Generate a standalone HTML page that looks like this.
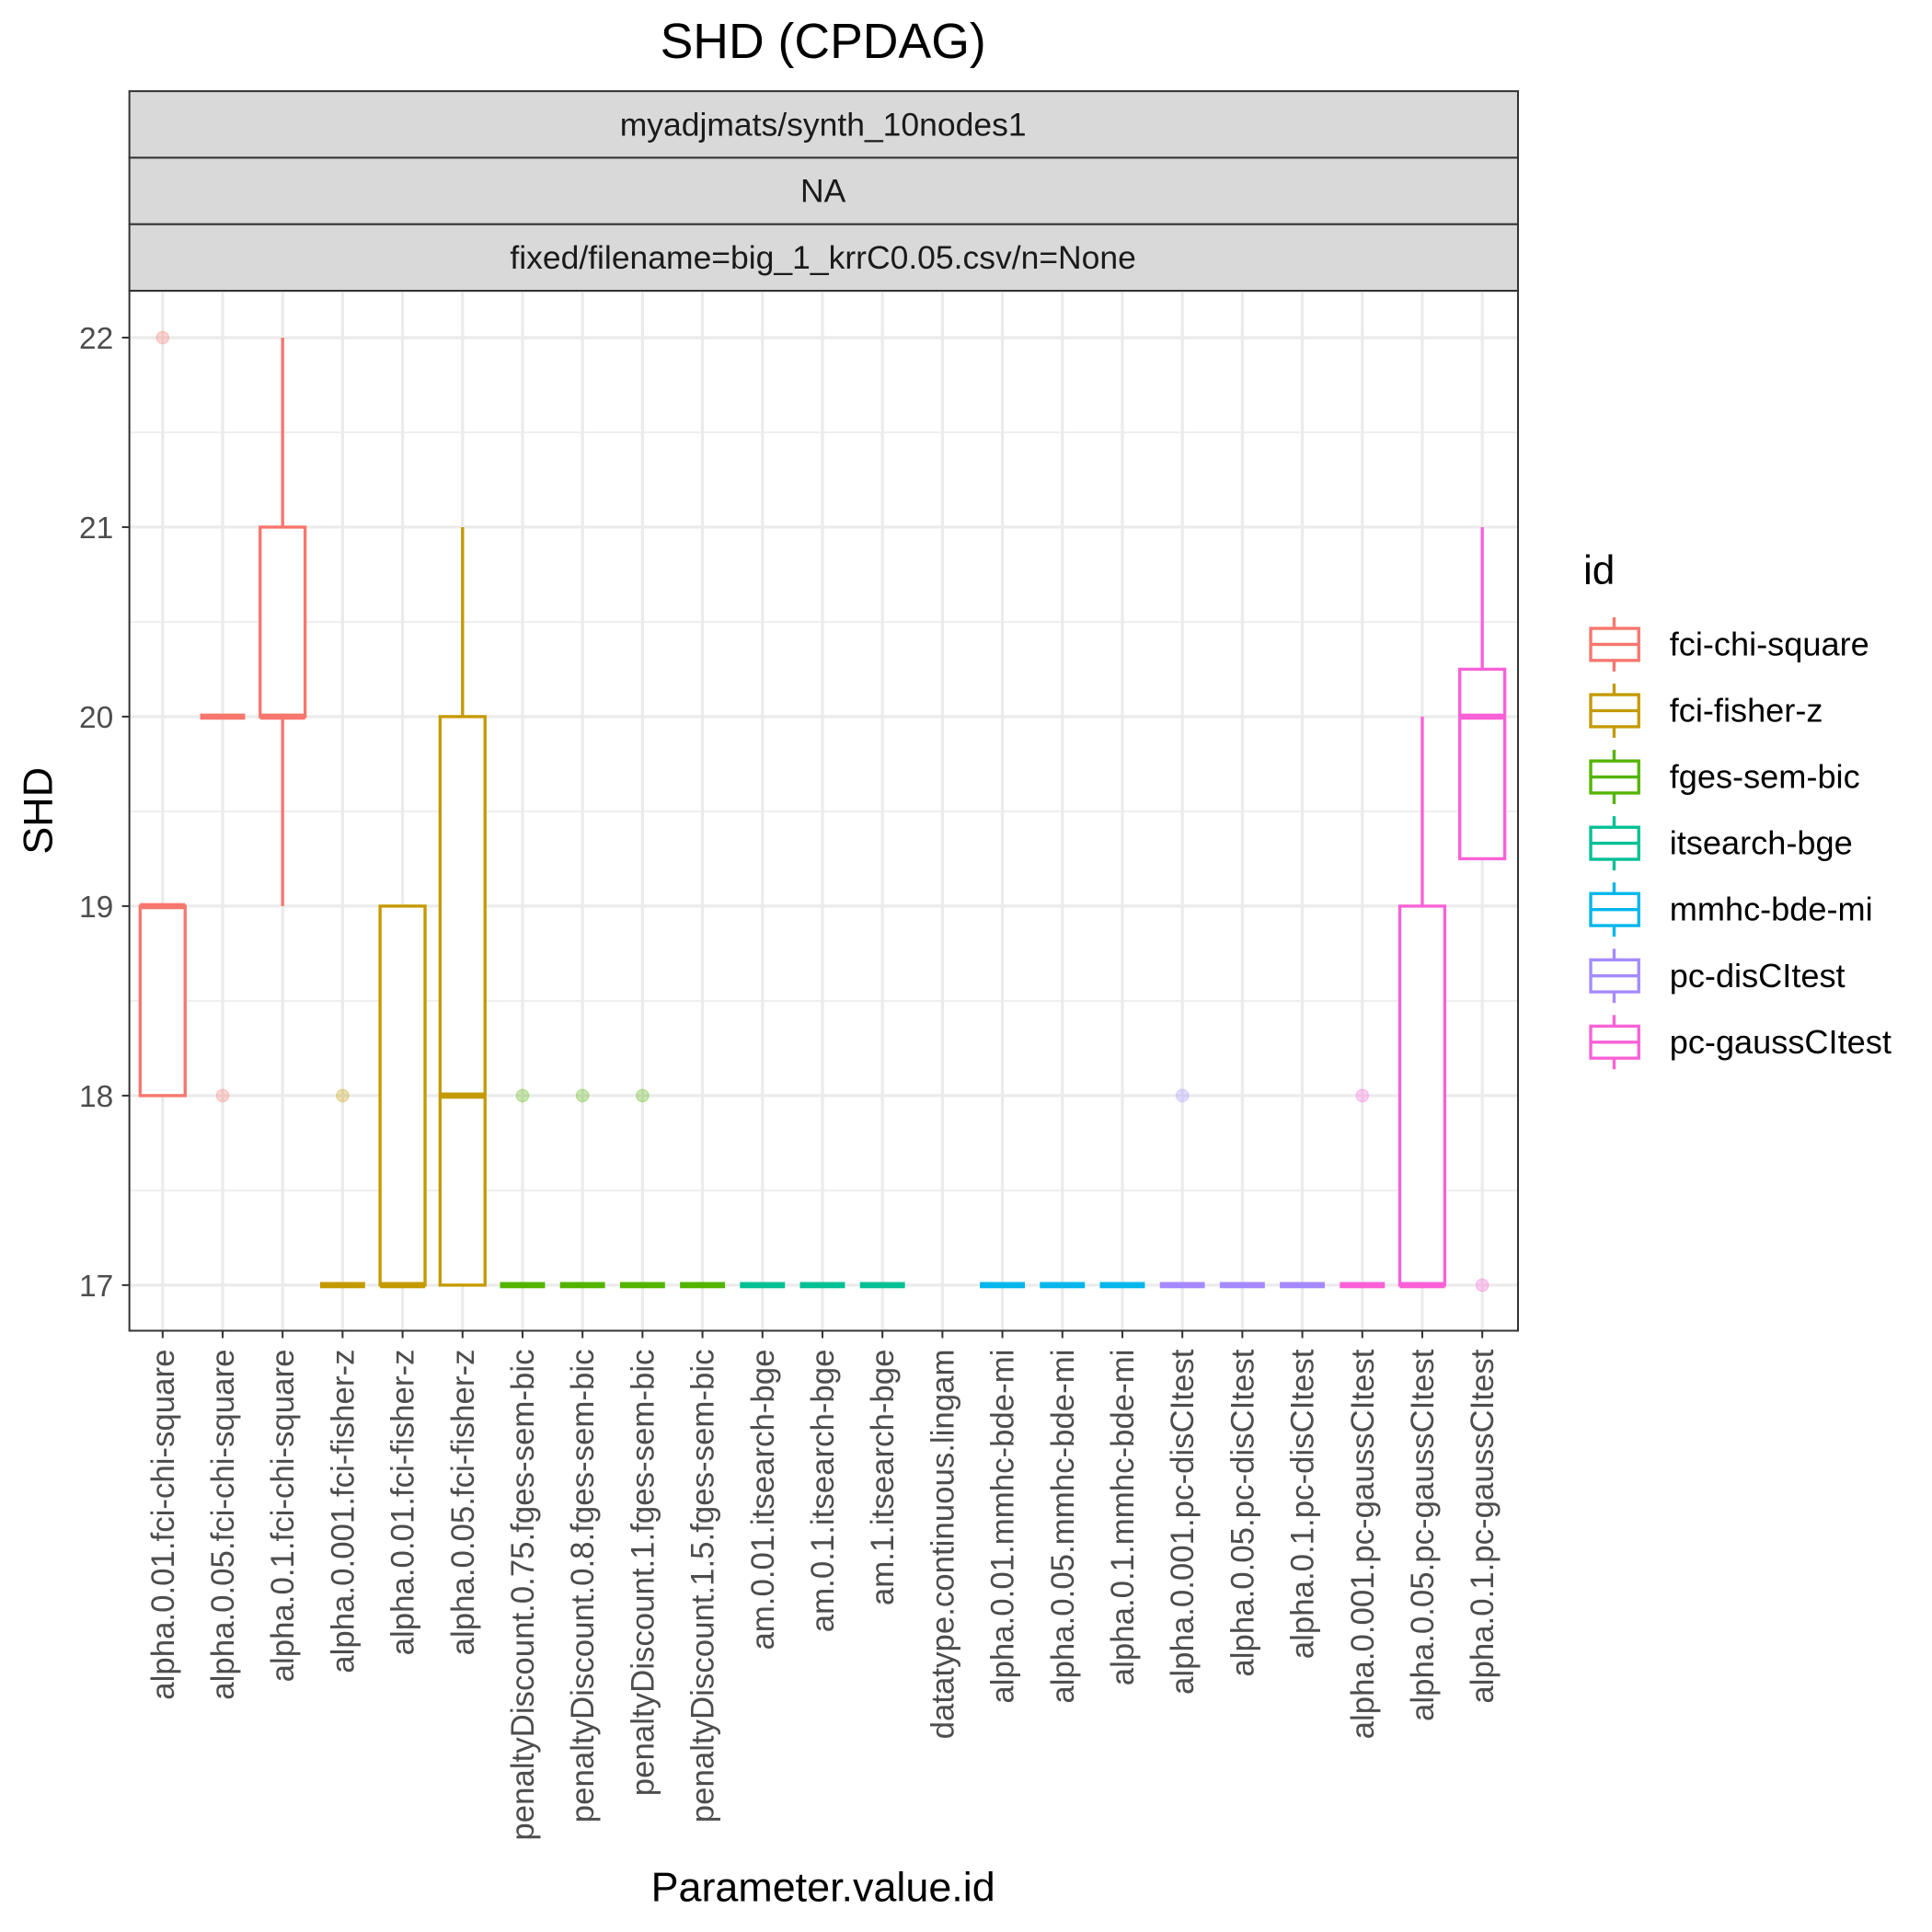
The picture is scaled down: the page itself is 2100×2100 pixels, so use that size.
<!DOCTYPE html>
<html><head><meta charset="utf-8"><style>
html,body{margin:0;padding:0;background:#fff}
svg{display:block;font-family:"Liberation Sans",sans-serif}
</style></head><body>
<svg id="chart" width="2100" height="2100" viewBox="0 0 1568 1568" xmlns="http://www.w3.org/2000/svg">
<rect x="0" y="0" width="1568" height="1568" fill="#fff"/>
<text x="668" y="47" font-size="40" text-anchor="middle" fill="#000">SHD (CPDAG)</text>
<g>
<rect x="105" y="74" width="1127" height="54" fill="#d9d9d9" stroke="#333" stroke-width="1.5"/>
<text x="668" y="110" font-size="26.5" text-anchor="middle" fill="#1a1a1a">myadjmats/synth_10nodes1</text>
<rect x="105" y="128" width="1127" height="54" fill="#d9d9d9" stroke="#333" stroke-width="1.5"/>
<text x="668" y="164" font-size="26.5" text-anchor="middle" fill="#1a1a1a">NA</text>
<rect x="105" y="182" width="1127" height="54" fill="#d9d9d9" stroke="#333" stroke-width="1.5"/>
<text x="668" y="218" font-size="26.5" text-anchor="middle" fill="#1a1a1a">fixed/filename=big_1_krrC0.05.csv/n=None</text>
</g>
<g id="grid"></g>
<g id="marks"></g>
<rect x="105" y="236" width="1127" height="844" fill="none" stroke="#333" stroke-width="1.5"/>
<g id="axes"></g>
<text x="668" y="1543" font-size="33.5" text-anchor="middle" fill="#000">Parameter.value.id</text>
<text transform="translate(42,658) rotate(-90)" font-size="33.5" text-anchor="middle" fill="#000">SHD</text>
<g id="legend"></g>
</svg>
<script>
const categories=["alpha.0.01.fci-chi-square","alpha.0.05.fci-chi-square","alpha.0.1.fci-chi-square","alpha.0.001.fci-fisher-z","alpha.0.01.fci-fisher-z","alpha.0.05.fci-fisher-z","penaltyDiscount.0.75.fges-sem-bic","penaltyDiscount.0.8.fges-sem-bic","penaltyDiscount.1.fges-sem-bic","penaltyDiscount.1.5.fges-sem-bic","am.0.01.itsearch-bge","am.0.1.itsearch-bge","am.1.itsearch-bge","datatype.continuous.lingam","alpha.0.01.mmhc-bde-mi","alpha.0.05.mmhc-bde-mi","alpha.0.1.mmhc-bde-mi","alpha.0.001.pc-disCItest","alpha.0.05.pc-disCItest","alpha.0.1.pc-disCItest","alpha.0.001.pc-gaussCItest","alpha.0.05.pc-gaussCItest","alpha.0.1.pc-gaussCItest"];
const groupIdx=[0,0,0,1,1,1,2,2,2,2,3,3,3,-1,4,4,4,5,5,5,6,6,6];
const q1=[18,20,20,17,17,17,17,17,17,17,17,17,17,null,17,17,17,17,17,17,17,17,19.25];
const med=[19,20,20,17,17,18,17,17,17,17,17,17,17,null,17,17,17,17,17,17,17,17,20];
const q3=[19,20,21,17,19,20,17,17,17,17,17,17,17,null,17,17,17,17,17,17,17,19,20.25];
const whiskLo=[18,20,19,17,17,17,17,17,17,17,17,17,17,null,17,17,17,17,17,17,17,17,19.25];
const whiskHi=[19,20,22,17,19,21,17,17,17,17,17,17,17,null,17,17,17,17,17,17,17,20,21];
const outliers=[[22],[18],[],[18],[],[],[18],[18],[18],[],[],[],[],[],[],[],[],[18],[],[],[18],[],[17]];
const groups=["fci-chi-square","fci-fisher-z","fges-sem-bic","itsearch-bge","mmhc-bde-mi","pc-disCItest","pc-gaussCItest"];
const colors=["#F8766D","#C49A00","#53B400","#00C094","#00B6EB","#A58AFF","#FB61D7"];
const yTicks=[17,18,19,20,21,22];
const NS="http://www.w3.org/2000/svg";
const X0=132,X1=1203,Y17=1043,Y22=274;
function xs(i){return X0+(X1-X0)*i/(categories.length-1);}
function ys(v){return Y17+(v-17)*(Y22-Y17)/5;}
function mk(tag,attrs,parent){const e=document.createElementNS(NS,tag);for(const k in attrs)e.setAttribute(k,attrs[k]);parent.appendChild(e);return e;}
const grid=document.getElementById('grid'),marks=document.getElementById('marks'),axes=document.getElementById('axes'),legend=document.getElementById('legend');
for(let v=16.5;v<=22.5;v+=0.5){const y=ys(v);if(y<236||y>1080)continue;const major=Number.isInteger(v);
const l=mk('line',{x1:105,x2:1232,y1:y,y2:y,stroke:'#ebebeb','stroke-width':major?2.4:1.2},grid);

}
categories.forEach((c,i)=>{const l=mk('line',{x1:xs(i),x2:xs(i),y1:236,y2:1080,stroke:'#ebebeb','stroke-width':2.4},grid);

});
const bw=(X1-X0)/(categories.length-1)*0.75;
categories.forEach((c,i)=>{const g=groupIdx[i];const cx=xs(i);
outliers[i].forEach(v=>{const col=g>=0?colors[g]:'#888';const o=mk('circle',{cx:cx,cy:ys(v),r:5,fill:col,'fill-opacity':0.3,stroke:col,'stroke-opacity':0.3},marks);

});
if(g<0||q1[i]===null)return;const col=colors[g];
const grp=mk('g',{},marks);


if(whiskHi[i]>q3[i])mk('line',{x1:cx,x2:cx,y1:ys(q3[i]),y2:ys(whiskHi[i]),stroke:col,'stroke-width':2.5},grp);
if(whiskLo[i]<q1[i])mk('line',{x1:cx,x2:cx,y1:ys(q1[i]),y2:ys(whiskLo[i]),stroke:col,'stroke-width':2.5},grp);
mk('rect',{x:cx-bw/2,y:ys(q3[i]),width:bw,height:Math.max(0,ys(q1[i])-ys(q3[i])),fill:'#fff',stroke:col,'stroke-width':2.5},grp);
mk('line',{x1:cx-bw/2,x2:cx+bw/2,y1:ys(med[i]),y2:ys(med[i]),stroke:col,'stroke-width':5},grp);
});
yTicks.forEach(v=>{const y=ys(v);mk('line',{x1:99,x2:105,y1:y,y2:y,stroke:'#333','stroke-width':1.5},axes);
const t=mk('text',{x:92,y:y+9,'font-size':25,'text-anchor':'end',fill:'#4d4d4d'},axes);t.textContent=v;

});
categories.forEach((c,i)=>{const x=xs(i);mk('line',{x1:x,x2:x,y1:1080,y2:1086,stroke:'#333','stroke-width':1.5},axes);
const t=mk('text',{transform:'translate('+(x+9)+',1095) rotate(-90)','font-size':26,'text-anchor':'end',fill:'#4d4d4d'},axes);t.textContent=c;

});
const lt=mk('text',{x:1285,y:474,'font-size':33,fill:'#000'},legend);lt.textContent='id';


groups.forEach((gname,k)=>{const cy=523+k*53.8;const col=colors[k];
const e=mk('g',{},legend);


mk('line',{x1:1310,x2:1310,y1:cy-22,y2:cy+22,stroke:col,'stroke-width':2.5},e);
mk('rect',{x:1291,y:cy-13,width:39,height:26,fill:'#fff',stroke:col,'stroke-width':2.5},e);
mk('line',{x1:1291,x2:1330,y1:cy,y2:cy,stroke:col,'stroke-width':2.5},e);
const t=mk('text',{x:1355,y:cy+9,'font-size':27,fill:'#000'},e);t.textContent=gname;});
</script>
</body></html>
